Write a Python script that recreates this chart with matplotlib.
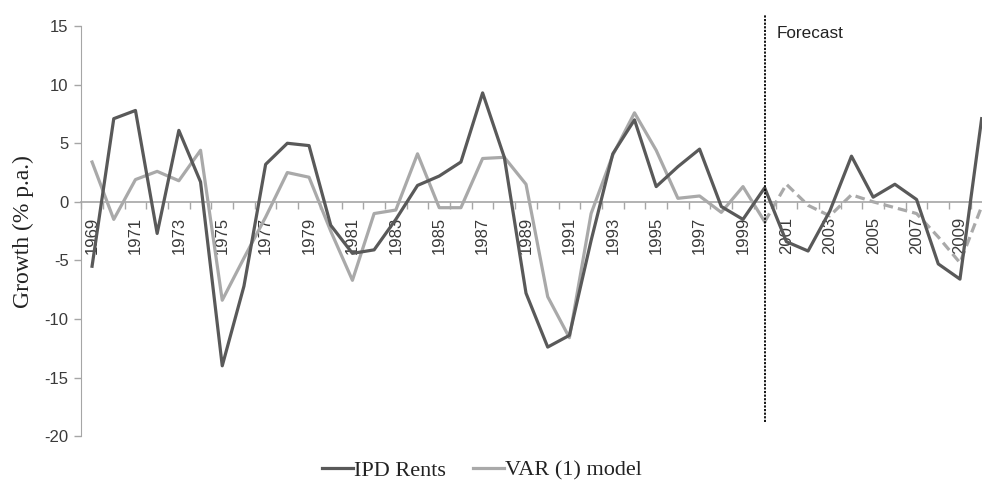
import numpy as np
import matplotlib.pyplot as plt

plt.rcParams['axes.unicode_minus'] = False

years = np.arange(1969, 2011)

ipd_rents = [-5.5, 7.1, 7.8, -2.7, 6.1, 1.7, -14.0, -7.2, 3.2, 5.0,
             4.8, -2.0, -4.4, -4.1, -1.5, 1.4, 2.2, 3.4, 9.3, 3.8,
             -7.8, -12.4, -11.4, -3.3, 4.1, 7.0, 1.3, 3.0, 4.5, -0.4,
             -1.5, 1.2, -3.4, -4.2, -0.8, 3.9, 0.4, 1.5, 0.2, -5.3,
             -6.6, 7.1]

# VAR(1) fitted values up to 2000, then forecast
var_fit_years = np.arange(1969, 2001)
var_fit = [3.4, -1.5, 1.9, 2.6, 1.8, 4.4, -8.4, -4.8, -1.3, 2.5,
           2.1, -2.5, -6.7, -1.0, -0.7, 4.1, -0.5, -0.5, 3.7, 3.8,
           1.5, -8.1, -11.6, -1.0, 4.0, 7.6, 4.4, 0.3, 0.5, -0.9,
           1.3, -1.7]
var_fc_years = np.arange(2000, 2011)
var_fc = [-1.7, 1.5, -0.3, -1.2, 0.6, 0.0, -0.5, -1.0, -3.0, -5.2, -0.4]

forecast_start = 2000
label_years = np.arange(1969, 2011, 2)

dark = '#595959'
light = '#a9a9a9'
txt = '#3a3a3a'

fig = plt.figure(figsize=(9.82, 4.84), dpi=100)
ax = fig.add_axes([0.0827, 0.099, 0.928, 0.847])

ax.plot(years, ipd_rents, color=dark, lw=2.3, label='IPD Rents', zorder=4)
ax.plot(var_fit_years, var_fit, color=light, lw=2.3, label='VAR (1) model', zorder=3)
ax.plot(var_fc_years, var_fc, color=light, lw=2.3, ls=(0, (3, 1.6)), label='_nolegend_', zorder=3)

# forecast divider
ax.plot([forecast_start, forecast_start], [-18.8, 16.0], color='black', lw=1.3,
        ls=(0, (1.2, 0.8)), clip_on=False, zorder=5)
ax.text(forecast_start + 0.55, 14.4, 'Forecast', fontsize=12.3, color='#222222',
        family='Liberation Sans', va='center', ha='left')

ax.set_xlim(1968.5, 2010.5)
ax.set_ylim(-20, 15)
ax.set_yticks(np.arange(-20, 16, 5))
ax.tick_params(axis='y', colors='#a6a6a6', labelcolor=txt, labelsize=12,
               length=5, width=1, pad=4)
for lab in ax.get_yticklabels():
    lab.set_family('Liberation Sans')

for s in ['top', 'right']:
    ax.spines[s].set_visible(False)
ax.spines['left'].set_color('#a6a6a6')
ax.spines['bottom'].set_position(('data', 0))
ax.spines['bottom'].set_color('#a6a6a6')
ax.spines['bottom'].set_linewidth(1.2)

# tick marks between categories, labels every other year
ax.set_xticks(np.arange(1968.5, 2011, 1))
ax.set_xticklabels([])
ax.tick_params(axis='x', which='major', colors='#a6a6a6', length=5, width=1)
ax.set_xticks(label_years, minor=True)
ax.set_xticklabels([str(y) for y in label_years], minor=True, rotation=90,
                   fontsize=12, color=txt, family='Liberation Sans')
ax.tick_params(axis='x', which='minor', length=0, pad=11)

ax.set_ylabel('Growth (% p.a.)', fontsize=17, family='Liberation Serif',
              color='#222222')
ax.yaxis.set_label_coords(-0.052, 0.5)

fig.legend(loc='lower center', bbox_to_anchor=(0.491, -0.035), ncol=2, frameon=False,
           prop={'family': 'Liberation Serif', 'size': 16}, handlelength=1.4,
           handletextpad=0.05, columnspacing=1.2, labelcolor='#222222')

fig.savefig('out.png', dpi=100)
